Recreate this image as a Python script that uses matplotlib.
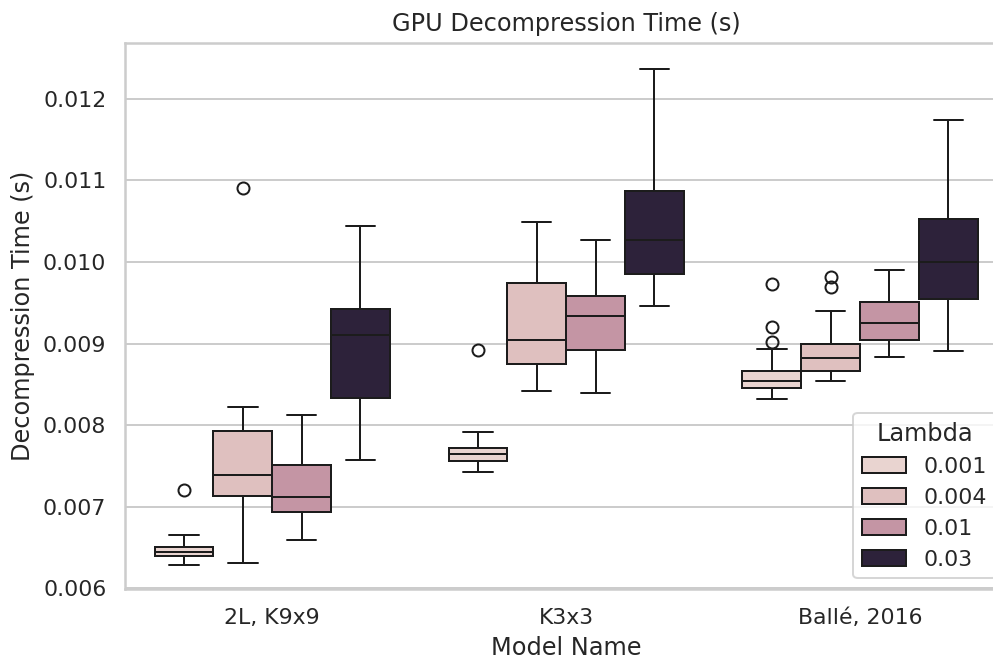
import numpy as np
import matplotlib
matplotlib.use("Agg")
import matplotlib.pyplot as plt
import matplotlib.colors as mcolors
from matplotlib.patches import Patch
import colorsys
import seaborn as sns

# Box statistics (rows: model, cols: lambda)
models  = ["2L, K9x9", "K3x3", "Ballé, 2016"]
lambdas = [0.001, 0.004, 0.01, 0.03]

q1 = [[0.006395, 0.007130, 0.006942, 0.008334],
      [0.007564, 0.008747, 0.008922, 0.009857],
      [0.008457, 0.008661, 0.009049, 0.009547]]
med = [[0.006449, 0.007395, 0.007118, 0.009100],
       [0.007649, 0.009038, 0.009338, 0.010273],
       [0.008547, 0.008824, 0.009257, 0.010000]]
q3 = [[0.006505, 0.007934, 0.007518, 0.009427],
      [0.007722, 0.009737, 0.009578, 0.010864],
      [0.008661, 0.009000, 0.009514, 0.010531]]
whislo = [[0.006282, 0.006315, 0.006596, 0.007570],
          [0.007427, 0.008421, 0.008400, 0.009458],
          [0.008318, 0.008539, 0.008841, 0.008906]]
whishi = [[0.006661, 0.008228, 0.008121, 0.010439],
          [0.007915, 0.010483, 0.010273, 0.012364],
          [0.008930, 0.009400, 0.009898, 0.011743]]
fliers = [[[0.007203], [0.010904], [], []],
          [[0.008922], [], [], []],
          [[0.009016, 0.009200, 0.009730], [0.009690, 0.009812], [], []]]

sns.set_theme(style="whitegrid")

# numeric hue palette like seaborn's default ("ch:") with saturation .75
cmap = sns.color_palette("ch:", as_cmap=True)
norm = mcolors.Normalize(min(lambdas), max(lambdas))
raw = [mcolors.to_rgb(cmap(norm(l))) for l in lambdas]
fills = [sns.desaturate(c, 0.75) for c in raw]
lum = min(colorsys.rgb_to_hls(*c)[1] for c in raw) * 0.6
LINE = (lum, lum, lum)

DPI = 144
fig = plt.figure(figsize=(993 / DPI, 662 / DPI), dpi=DPI)
ax = fig.add_axes([0.1262, 0.1098, 1.0141 - 0.1262, 0.9355 - 0.1098])

n = len(lambdas)
w = 0.8 / n
offsets = [(-0.4 + w / 2) + j * w for j in range(n)]

for j, lam in enumerate(lambdas):
    stats = []
    for i in range(len(models)):
        stats.append(dict(med=med[i][j], q1=q1[i][j], q3=q3[i][j],
                          whislo=whislo[i][j], whishi=whishi[i][j],
                          fliers=fliers[i][j]))
    pos = [i + offsets[j] for i in range(len(models))]
    ax.bxp(stats, positions=pos, widths=w, capwidths=w * 0.5,
           patch_artist=True, manage_ticks=False,
           boxprops=dict(facecolor=fills[j], edgecolor=LINE, linewidth=1.0),
           medianprops=dict(color=LINE, linewidth=1.0),
           whiskerprops=dict(color=LINE, linewidth=1.0),
           capprops=dict(color=LINE, linewidth=1.0),
           flierprops=dict(marker="o", markerfacecolor="none",
                           markeredgecolor=LINE, markersize=6,
                           markeredgewidth=1.0))

ax.set_xlim(-0.5, len(models) - 0.5)
ax.set_xticks(range(len(models)))
ax.set_xticklabels(models)
ax.set_ylim(0.00599, 0.012685)
ax.set_yticks([0.006, 0.007, 0.008, 0.009, 0.010, 0.011, 0.012])
ax.yaxis.set_major_formatter(matplotlib.ticker.FormatStrFormatter("%.3f"))
ax.xaxis.grid(False)
ax.yaxis.grid(True)

ax.set_xlabel("Model Name")
ax.set_ylabel("Decompression Time (s)")
ax.set_title("GPU Decompression Time (s)")

handles = [Patch(facecolor=fills[j], edgecolor=LINE, linewidth=1.0)
           for j in range(n)]
ax.legend(handles, [str(l) for l in lambdas], title="Lambda",
          loc="lower right")

fig.savefig("out.png", dpi=DPI)
